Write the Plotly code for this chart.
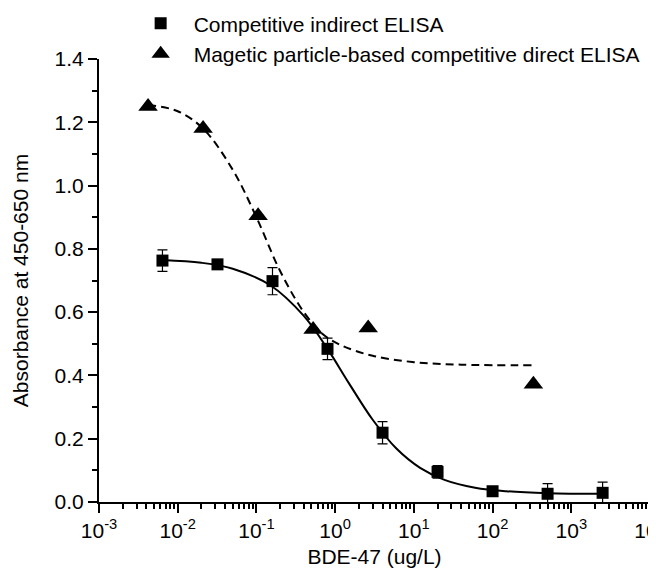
import plotly.graph_objects as go

# Competitive indirect ELISA (squares)
ci_x = [0.0064, 0.032, 0.16, 0.8, 4, 20, 100, 500, 2500]
ci_y = [0.763, 0.751, 0.698, 0.484, 0.219, 0.095, 0.034, 0.026, 0.029]
ci_err = [0.034, 0.015, 0.043, 0.034, 0.035, 0.02, 0.01, 0.032, 0.034]

# fitted curve (solid)
ci_fit_x = [0.0064, 0.02, 0.05, 0.15, 0.4, 0.8, 1.5, 3, 6, 12, 25, 60, 150, 500, 2500]
ci_fit_y = [0.765, 0.756, 0.737, 0.685, 0.588, 0.484, 0.375, 0.260, 0.169, 0.108, 0.069, 0.045, 0.034, 0.028, 0.026]

# Magnetic particle-based competitive direct ELISA (triangles)
mp_x = [0.0042, 0.021, 0.105, 0.525, 2.63, 330]
mp_y = [1.25, 1.18, 0.905, 0.545, 0.55, 0.372]

# fitted curve (dashed)
mp_fit_x = [0.0042, 0.01, 0.021, 0.05, 0.1, 0.2, 0.4, 0.7, 1.2, 3, 10, 40, 340]
mp_fit_y = [1.255, 1.235, 1.18, 1.05, 0.90, 0.73, 0.60, 0.53, 0.495, 0.462, 0.442, 0.434, 0.432]

x_tickvals = [1e-3, 1e-2, 1e-1, 1e0, 1e1, 1e2, 1e3, 1e4]
x_ticktext = ["10<sup>-3</sup>", "10<sup>-2</sup>", "10<sup>-1</sup>", "10<sup>0</sup>",
              "10<sup>1</sup>", "10<sup>2</sup>", "10<sup>3</sup>", "10<sup>4</sup>"]
y_tickvals = [0.0, 0.2, 0.4, 0.6, 0.8, 1.0, 1.2, 1.4]
y_ticktext = ["0.0", "0.2", "0.4", "0.6", "0.8", "1.0", "1.2", "1.4"]

FONT = "Liberation Sans, Arial, Helvetica, sans-serif"

fig = go.Figure()

fig.add_trace(go.Scatter(x=ci_fit_x, y=ci_fit_y, mode="lines", line=dict(color="black", width=2, shape="spline"),
                         showlegend=False, hoverinfo="skip"))
fig.add_trace(go.Scatter(x=mp_fit_x, y=mp_fit_y, mode="lines",
                         line=dict(color="black", width=2, dash="8px,5px", shape="spline"),
                         showlegend=False, hoverinfo="skip"))

fig.add_trace(go.Scatter(x=ci_x, y=ci_y, mode="markers", name="Competitive indirect ELISA",
                         marker=dict(symbol="square", size=12, color="black"),
                         error_y=dict(type="data", array=ci_err, visible=True, color="black", thickness=1.2, width=5)))
fig.add_trace(go.Scatter(x=mp_x, y=mp_y, mode="markers", name="Magetic particle-based competitive direct ELISA",
                         marker=dict(symbol="triangle-up", size=17, color="black")))

fig.update_layout(
    width=656, height=574,
    margin=dict(l=91, r=14, t=51, b=80, autoexpand=False),
    paper_bgcolor="white", plot_bgcolor="white",
    font=dict(family=FONT, size=21, color="black"),
    legend=dict(x=0.052, y=1.126, xanchor="left", yanchor="top", bgcolor="rgba(0,0,0,0)",
                itemwidth=56, font=dict(size=21), tracegroupgap=0),
    showlegend=True,
)

fig.update_xaxes(
    type="log", range=[-3, 4], tickvals=x_tickvals, ticktext=x_ticktext,
    showline=True, linecolor="black", linewidth=2, showgrid=False, zeroline=False,
    ticks="outside", ticklen=9, tickwidth=2, tickcolor="black", ticklabeloverflow="allow",
    minor=dict(ticks="outside", ticklen=5, tickwidth=1.5, tickcolor="black", dtick="D1", showgrid=False),
    title=dict(text="BDE-47 (ug/L)", font=dict(size=21), standoff=8),
    tickfont=dict(size=21), automargin=False,
)
fig.update_yaxes(
    range=[0, 1.4], tickvals=y_tickvals, ticktext=y_ticktext,
    showline=True, linecolor="black", linewidth=2, showgrid=False, zeroline=False,
    ticks="outside", ticklen=9, tickwidth=2, tickcolor="black", ticklabeloverflow="allow",
    minor=dict(ticks="outside", ticklen=5, tickwidth=1.5, tickcolor="black", dtick=0.1, showgrid=False),
    title=dict(text="Absorbance at 450-650 nm", font=dict(size=21), standoff=20),
    tickfont=dict(size=21), automargin=False,
)

fig.write_html("out.html")
